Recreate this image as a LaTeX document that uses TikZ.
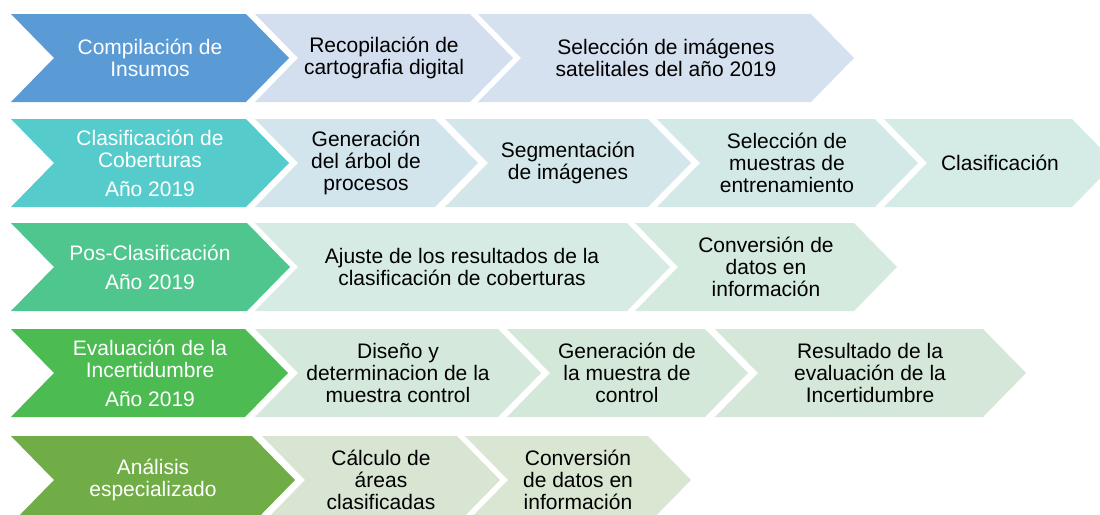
\documentclass[tikz,border=0pt]{standalone}
\usepackage{fontspec}
\setmainfont{Liberation Sans}
\usetikzlibrary{calc}
\definecolor{mainA}{HTML}{5B9BD5}
\definecolor{mainB}{HTML}{56CBCB}
\definecolor{mainC}{HTML}{4FC68D}
\definecolor{mainD}{HTML}{4BBB52}
\definecolor{mainE}{HTML}{70AD47}
\definecolor{boxA1}{HTML}{D3DFEE}
\definecolor{boxA2}{HTML}{D5E1EE}
\definecolor{boxB1}{HTML}{D3E5EC}
\definecolor{boxB2}{HTML}{D3E7EA}
\definecolor{boxB3}{HTML}{D3E9E8}
\definecolor{boxB4}{HTML}{D5EBE5}
\definecolor{boxC1}{HTML}{D5EBE3}
\definecolor{boxC2}{HTML}{D4EADF}
\definecolor{boxD1}{HTML}{D4E8DB}
\definecolor{boxD2}{HTML}{D4E8D9}
\definecolor{boxD3}{HTML}{D4E7D8}
\definecolor{boxE1}{HTML}{D7E5D2}
\definecolor{boxE2}{HTML}{D8E6D2}
% L, R, top, colour
\newcommand{\chevbox}[4]{%
  \fill[#4] (#1,#3) -- (#2,#3) -- ({#2+43},{#3+44}) -- (#2,{#3+88})
    -- (#1,{#3+88}) -- ({#1+43},{#3+44}) -- cycle;}
\begin{document}
\begin{tikzpicture}[x=1pt,y=-1pt,
  txt/.style={align=center,inner sep=0pt,font=\fontsize{21}{22}\selectfont,text=black},
  headtxt/.style={txt,text=white}]
\useasboundingbox (0,0) rectangle (1100,514);
\clip (0,0) rectangle (1100,514);
% Row 1
\chevbox{11}{246}{14}{mainA}
\chevbox{255}{470}{14}{boxA1}
\chevbox{478}{811}{14}{boxA2}
\node[headtxt] (r1a) at (150,58) {Compilación de\\Insumos};
\node[txt] (r1b) at (384,58) {Recopilación de\\cartografia digital};
\node[txt] (r1c) at (666,58) {Selección de imágenes\\satelitales del año 2019};
% Row 2
\chevbox{11}{246}{119}{mainB}
\chevbox{255}{435}{119}{boxB1}
\chevbox{445}{648}{119}{boxB2}
\chevbox{657}{875}{119}{boxB3}
\chevbox{884}{1072}{119}{boxB4}
\node[headtxt] (r2a) at (150,163) {Clasificación de\\Coberturas\\[7pt]Año 2019};
\node[txt] (r2b) at (366,163) {Generación\\del árbol de\\procesos};
\node[txt] (r2c) at (568,163) {Segmentación\\de imágenes};
\node[txt] (r2d) at (787,163) {Selección de\\muestras de\\entrenamiento};
\node[txt] (r2e) at (1000,163) {Clasificación};
% Row 3
\chevbox{11}{247}{223}{mainC}
\chevbox{255}{627}{223}{boxC1}
\chevbox{635}{854}{223}{boxC2}
\node[headtxt] (r3a) at (150,267) {Pos-Clasificación\\[7pt]Año 2019};
\node[txt] (r3b) at (462,267) {Ajuste de los resultados de la\\clasificación de coberturas};
\node[txt] (r3c) at (766,267) {Conversión de\\datos en\\información};
% Row 4
\chevbox{11}{245}{329}{mainD}
\chevbox{255}{498}{329}{boxD1}
\chevbox{507}{705}{329}{boxD2}
\chevbox{715}{983}{329}{boxD3}
\node[headtxt] (r4a) at (150,373) {Evaluación de la\\Incertidumbre\\[7pt]Año 2019};
\node[txt] (r4b) at (398,373) {Diseño y\\determinacion de la\\muestra control};
\node[txt] (r4c) at (627,373) {Generación de\\la muestra de\\control};
\node[txt] (r4d) at (870,373) {Resultado de la\\evaluación de la\\Incertidumbre};
% Row 5
\chevbox{11}{252}{436}{mainE}
\chevbox{262}{457}{436}{boxE1}
\chevbox{465}{648}{436}{boxE2}
\node[headtxt] (r5a) at (153,480) {Análisis\\especializado};
\node[txt] (r5b) at (381,480) {Cálculo de\\áreas\\clasificadas};
\node[txt] (r5c) at (578,480) {Conversión\\de datos en\\información};
\end{tikzpicture}
\end{document}
